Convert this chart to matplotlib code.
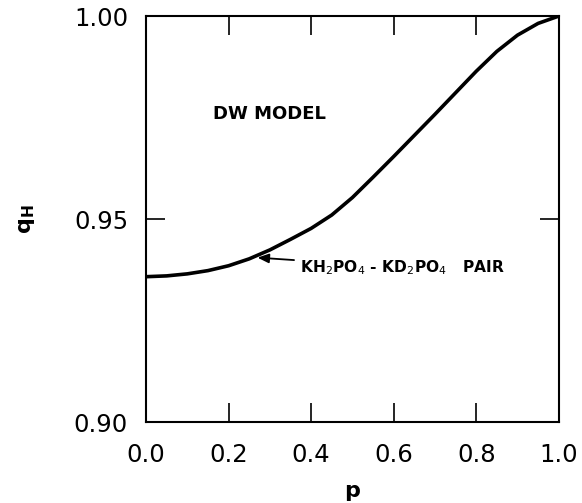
import matplotlib
matplotlib.use("Agg")
import matplotlib.pyplot as plt

# q_H vs p
p = [0.00, 0.05, 0.10, 0.15, 0.20, 0.25, 0.30, 0.35, 0.40, 0.45, 0.50,
     0.55, 0.60, 0.65, 0.70, 0.75, 0.80, 0.85, 0.90, 0.95, 1.00]
q_h = [0.9358, 0.9360, 0.9365, 0.9373, 0.9385, 0.9402, 0.9424, 0.9450,
       0.9477, 0.9510, 0.9553, 0.9603, 0.9654, 0.9706, 0.9758, 0.9811,
       0.9864, 0.9913, 0.9953, 0.9982, 1.0000]

x_ticks = [0.0, 0.2, 0.4, 0.6, 0.8, 1.0]
x_labels = ["0.0", "0.2", "0.4", "0.6", "0.8", "1.0"]
y_ticks = [0.90, 0.95, 1.00]
y_labels = ["0.90", "0.95", "1.00"]

fig = plt.figure(figsize=(5.82, 5.03), dpi=100)
ax = fig.add_axes([0.251, 0.161, 0.709, 0.807])

ax.plot(p, q_h, color="black", lw=2.6, solid_capstyle="round",
        solid_joinstyle="round")

ax.set_xlim(0, 1)
ax.set_ylim(0.90, 1.00)
ax.set_xticks(x_ticks)
ax.set_xticklabels(x_labels)
ax.set_yticks(y_ticks)
ax.set_yticklabels(y_labels)
ax.tick_params(direction="in", length=14, width=1.2, labelsize=17.5,
               top=True, right=True)
ax.tick_params(axis="x", pad=15)
ax.tick_params(axis="y", pad=13)
for s in ax.spines.values():
    s.set_linewidth(1.5)

ax.set_xlabel("p", fontsize=16, fontweight="bold")
ax.xaxis.set_label_coords(0.5, -0.145)
ax.set_ylabel(r"$\mathbf{q_H}$", fontsize=16)
ax.yaxis.set_label_coords(-0.265, 0.5)

ax.text(0.162, 0.9758, "DW MODEL", fontsize=13, fontweight="bold",
        va="center", ha="left")
ax.annotate(r"KH$_2$PO$_4$ - KD$_2$PO$_4$   PAIR",
            xy=(0.27, 0.9405), xytext=(0.372, 0.9381),
            fontsize=11.2, fontweight="bold", va="center", ha="left",
            arrowprops=dict(arrowstyle="-|>,head_length=0.6,head_width=0.25",
                            color="black", lw=1.3, shrinkA=2, shrinkB=0))

fig.savefig("out.png", dpi=100)
